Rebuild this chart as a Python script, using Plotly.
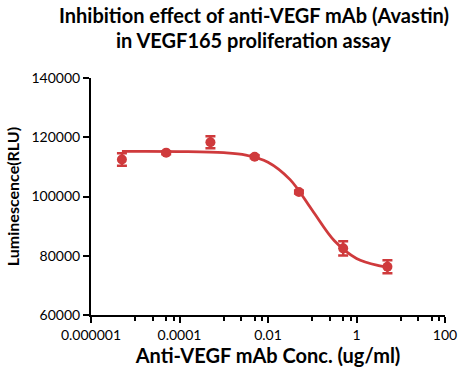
import plotly.graph_objects as go

# Data
conc = [0.000005, 0.00005, 0.0005, 0.005, 0.05, 0.5, 5]
lum = [112500, 114800, 118300, 113400, 101500, 82500, 76300]
err = [2100, 500, 2000, 500, 500, 2400, 2200]

# Fitted curve
curve_x = [0.000005, 0.00001, 0.0001, 0.001, 0.00316, 0.01, 0.0316, 0.1, 0.316, 1, 3.16, 5]
curve_y = [115200, 115200, 115150, 114800, 114000, 111600, 105700, 95350, 85050, 79100, 76700, 76280]

major_ticks = [0.000001, 0.0001, 0.01, 1, 100]
major_labels = ["0.000001", "0.0001", "0.01", "1", "100"]
minor_ticks = [1e-5, 2.5e-5, 5e-5, 7.5e-5,
               1e-3, 2.5e-3, 5e-3, 7.5e-3,
               1e-1, 2.5e-1, 5e-1, 7.5e-1,
               10, 25, 50, 75]
y_ticks = [60000, 80000, 100000, 120000, 140000]
title_lines = ["Inhibition effect of anti-VEGF mAb (Avastin)", "in VEGF165 proliferation assay"]

red = "#CF3A3C"

fig = go.Figure()
fig.add_trace(go.Scatter(x=curve_x, y=curve_y, mode="lines",
                         line=dict(color=red, width=2.8, shape="spline", smoothing=1.0),
                         hoverinfo="skip", showlegend=False))
fig.add_trace(go.Scatter(x=conc, y=lum, mode="markers",
                         marker=dict(color=red, size=10),
                         error_y=dict(type="data", array=err, color=red, thickness=2.5, width=5),
                         showlegend=False))

font = "Lato, 'Open Sans', sans-serif"
for txt, yy in zip(title_lines, [1.266, 1.16]):
    fig.add_annotation(text="<b>" + txt + "</b>", xref="paper", yref="paper", x=0.46, y=yy,
                       xanchor="center", yanchor="middle", showarrow=False,
                       font=dict(size=20, family=font, color="black"))

fig.update_layout(
    width=469, height=375,
    margin=dict(l=89, r=21, t=78, b=60),
    paper_bgcolor="white", plot_bgcolor="white",
    font=dict(family=font, color="black"),
    xaxis=dict(type="log", range=[-6, 2], tickmode="array", tickvals=major_ticks, ticktext=major_labels,
               showgrid=False, zeroline=False, showline=True, linecolor="black", linewidth=2,
               ticks="outside", ticklen=6, tickwidth=2, tickcolor="black",
               tickfont=dict(size=14, family=font),
               minor=dict(tickmode="array", tickvals=minor_ticks, ticks="outside", ticklen=4,
                          tickwidth=2, tickcolor="black", showgrid=False),
               title=dict(text="<b>Anti-VEGF mAb Conc. (ug/ml)</b>", font=dict(size=20, family=font), standoff=1)),
    yaxis=dict(range=[60000, 140000], tickmode="array", tickvals=y_ticks,
               ticktext=[str(v) for v in y_ticks],
               showgrid=False, zeroline=False, showline=True, linecolor="black", linewidth=2,
               ticks="outside", ticklen=6, tickwidth=2, tickcolor="black",
               tickfont=dict(size=14, family=font),
               title=dict(text="<b>Luminescence(RLU)</b>", font=dict(size=16, family=font), standoff=8)),
)

fig.write_html("out.html", config={"displayModeBar": False},
               post_script="document.body.style.margin='0';")
